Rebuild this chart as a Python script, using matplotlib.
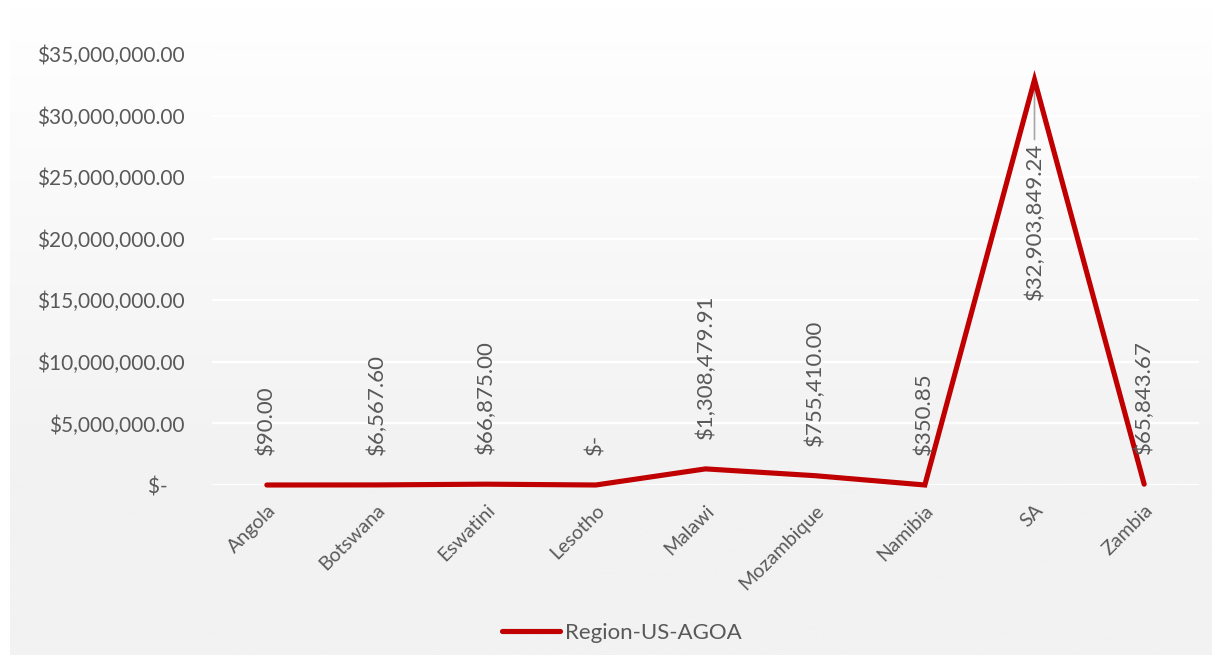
import numpy as np
import matplotlib
matplotlib.use("Agg")
import matplotlib.pyplot as plt
from matplotlib.ticker import FixedLocator

categories = ["Angola", "Botswana", "Eswatini", "Lesotho", "Malawi",
              "Mozambique", "Namibia", "SA", "Zambia"]
values = [90.00, 6567.60, 66875.00, 0.0, 1308479.91,
          755410.00, 350.85, 32903849.24, 65843.67]
value_labels = ["$90.00", "$6,567.60", "$66,875.00", "$-", "$1,308,479.91",
                "$755,410.00", "$350.85", "$32,903,849.24", "$65,843.67"]
yticks = [0, 5e6, 10e6, 15e6, 20e6, 25e6, 30e6, 35e6]
ytick_labels = ["$-   ", "$5,000,000.00", "$10,000,000.00", "$15,000,000.00",
                "$20,000,000.00", "$25,000,000.00", "$30,000,000.00", "$35,000,000.00"]
series_name = "Region-US-AGOA"

plt.rcParams['font.family'] = ['Lato', 'DejaVu Sans']
TXT = "#595959"
RED = "#C00000"
FS_Y = 15
FS_X = 14
FS_D = 16
FS_L = 16

W, H = 1215, 661
fig = plt.figure(figsize=(W / 100, H / 100), dpi=100)
fig.patch.set_facecolor("white")

# gradient background
bg = fig.add_axes([10 / W, 6 / H, 1 - 13 / W, 1 - 12 / H], zorder=-10)
n = 256
t = np.linspace(0, 1, n)
g = np.clip(t / 0.7, 0, 1)
top = np.array([1.0, 1.0, 1.0])
bot = np.array([0xF2, 0xF2, 0xF2]) / 255
cols = top[None, :] * (1 - g[:, None]) + bot[None, :] * g[:, None]
bg.imshow(cols[:, None, :], aspect="auto", extent=[0, 1, 0, 1], origin="upper")
bg.set_axis_off()

ax = fig.add_axes([212 / W, (H - 485) / H, 987 / W, (485 - 54) / H])
ax.patch.set_alpha(0)
x = np.arange(len(categories))
ax.plot(x, values, color=RED, lw=3.7, solid_capstyle="round",
        solid_joinstyle="miter", clip_on=False, zorder=3)
ax.set_xlim(-0.5, len(categories) - 0.5)
ax.set_ylim(0, 35e6)
ax.yaxis.set_major_locator(FixedLocator(yticks))
ax.set_yticklabels(ytick_labels, fontsize=FS_Y, color=TXT)
ax.set_xticks(x)
ax.set_xticklabels(categories, fontsize=FS_X, color=TXT, rotation=45,
                   ha="right", rotation_mode="anchor")
ax.tick_params(axis="y", length=0, pad=20)
ax.tick_params(axis="x", length=0, pad=12)
ax.grid(axis="y", color="white", lw=1.6, zorder=1)
ax.set_axisbelow(True)
for s in ax.spines.values():
    s.set_visible(False)

for i, (v, lab) in enumerate(zip(values, value_labels)):
    if categories[i] == "SA":
        ax.annotate(lab, (i, v), xytext=(0, -45), textcoords="offset points",
                    rotation=90, ha="center", va="top", fontsize=FS_D, color=TXT,
                    zorder=4)
        ax.annotate("", (i, v), xytext=(0, -43), textcoords="offset points",
                    arrowprops=dict(arrowstyle="-", color="#A6A6A6", lw=1.2,
                                    shrinkA=0, shrinkB=0), zorder=2)
    else:
        ax.annotate(lab, (i, v), xytext=(0, 21.5), textcoords="offset points",
                    rotation=90, ha="center", va="bottom", fontsize=FS_D,
                    color=TXT, zorder=4)

leg = fig.legend([plt.Line2D([], [], color=RED, lw=3.7, solid_capstyle="round")],
                 [series_name], loc="center", bbox_to_anchor=(622 / W, 1 - 633 / H),
                 frameon=False, fontsize=FS_L, handlelength=2.6, handletextpad=0.25)
for t_ in leg.get_texts():
    t_.set_color(TXT)

fig.savefig("out.png", dpi=100)
